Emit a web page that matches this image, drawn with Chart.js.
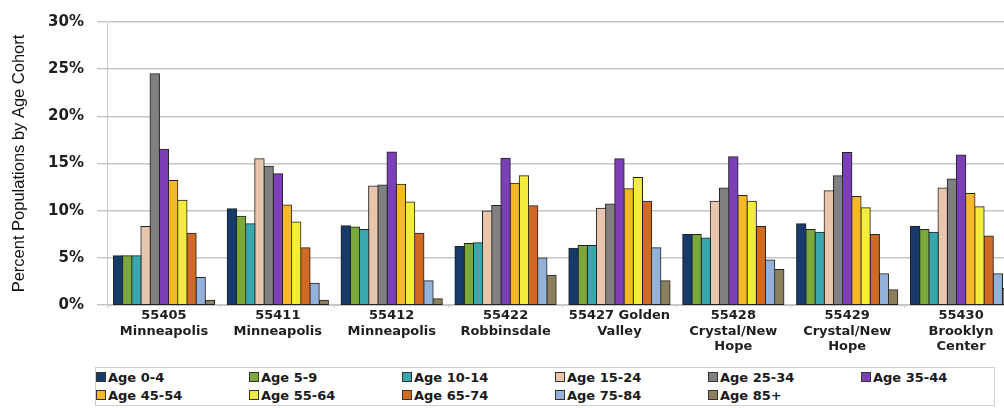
<!DOCTYPE html>
<html>
<head>
<meta charset="utf-8">
<script src="https://cdn.jsdelivr.net/npm/chart.js@4.4.1/dist/chart.umd.min.js"></script>
<style>
  html, body { margin: 0; padding: 0; background: #fff; overflow: hidden; }
  #wrap { position: relative; width: 1020px; height: 408px; }
  #legend { position: absolute; left: 95px; top: 367px; width: 900px; height: 39px;
            border: 1px solid #cfcfcf; box-sizing: border-box; background: #fff; }
  .item { position: absolute; font: bold 13px "DejaVu Sans", sans-serif; color: #1a1a1a;
          white-space: nowrap; line-height: 16px; }
  .sw { display: inline-block; width: 8px; height: 8px; border: 1px solid #333;
        vertical-align: 0px; margin-right: 2px; }
</style>
</head>
<body>
<div id="wrap">
  <canvas id="c"></canvas>
  <div id="legend"></div>
</div>
<script>
const categories = [
  ["55405", "Minneapolis"],
  ["55411", "Minneapolis"],
  ["55412", "Minneapolis"],
  ["55422", "Robbinsdale"],
  ["55427 Golden", "Valley"],
  ["55428", "Crystal/New", "Hope"],
  ["55429", "Crystal/New", "Hope"],
  ["55430", "Brooklyn", "Center"]
];
const seriesNames = ["Age 0-4", "Age 5-9", "Age 10-14", "Age 15-24", "Age 25-34", "Age 35-44",
                     "Age 45-54", "Age 55-64", "Age 65-74", "Age 75-84", "Age 85+"];
const age0_4   = [5.2, 10.2, 8.4, 6.2, 6.0, 7.45, 8.6, 8.35];
const age5_9   = [5.2, 9.4, 8.25, 6.5, 6.3, 7.45, 8.0, 8.0];
const age10_14 = [5.2, 8.6, 8.0, 6.6, 6.3, 7.1, 7.7, 7.7];
const age15_24 = [8.3, 15.5, 12.6, 9.95, 10.25, 11.0, 12.1, 12.4];
const age25_34 = [24.5, 14.7, 12.7, 10.55, 10.7, 12.4, 13.7, 13.35];
const age35_44 = [16.5, 13.9, 16.2, 15.55, 15.5, 15.7, 16.15, 15.9];
const age45_54 = [13.2, 10.6, 12.8, 12.9, 12.3, 11.6, 11.5, 11.8];
const age55_64 = [11.1, 8.8, 10.9, 13.7, 13.5, 11.0, 10.3, 10.4];
const age65_74 = [7.6, 6.05, 7.6, 10.5, 11.0, 8.3, 7.45, 7.3];
const age75_84 = [2.9, 2.3, 2.55, 4.97, 6.05, 4.75, 3.3, 3.3];
const age85p   = [0.5, 0.5, 0.66, 3.15, 2.55, 3.74, 1.6, 1.75];
const yTicks = [0, 5, 10, 15, 20, 25, 30];

const seriesValues = [age0_4, age5_9, age10_14, age15_24, age25_34, age35_44,
                      age45_54, age55_64, age65_74, age75_84, age85p];
const colors = ["#173a6b", "#7aa83a", "#39a8ae", "#e8c6ad", "#808080", "#7b3fb8",
                "#f5b829", "#f3ec3b", "#d06a22", "#94b1d9", "#8c7f5c"];

const datasets = seriesNames.map((n, i) => ({
  label: n,
  data: seriesValues[i],
  backgroundColor: colors[i],
  borderColor: "#222222",
  borderWidth: 1,
  borderSkipped: false,
  inflateAmount: 0.6,
  barPercentage: 1.0,
  categoryPercentage: 0.887
}));

new Chart(document.getElementById("c"), {
  type: "bar",
  data: { labels: categories, datasets },
  options: {
    responsive: true,
    maintainAspectRatio: false,
    animation: false,
    layout: { padding: { top: 19, right: 2, left: 0, bottom: 0 } },
    plugins: { legend: { display: false }, tooltip: { enabled: false } },
    scales: {
      x: {
        grid: { display: true, drawOnChartArea: false, tickLength: 3, color: "#d4d4d4", offset: true },
        border: { color: "#c8c8c8" },
        ticks: {
          autoSkip: false, maxRotation: 0, minRotation: 0, padding: 0,
          color: "#1e1e1e",
          font: { family: "DejaVu Sans", weight: "bold", size: 13, lineHeight: 1.2 }
        },
        afterFit(s) { s.height = 103; }
      },
      y: {
        min: 0, max: 30,
        afterBuildTicks(s) { s.ticks = yTicks.map(v => ({ value: v })); },
        grid: { color: "#c6c6c6", lineWidth: 1.4, tickLength: 10 },
        border: { color: "#c8c8c8" },
        ticks: {
          padding: 13, color: "#1e1e1e",
          font: { family: "DejaVu Sans", weight: "bold", size: 15 },
          callback: v => v + "%"
        },
        title: {
          display: true, text: "Percent Populations by Age Cohort",
          color: "#111", padding: { top: 10, bottom: 0 },
          font: { family: "Liberation Sans", size: 16.5 }
        },
        afterFit(s) { s.width = 107; }
      }
    }
  }
});

// legend built from the series arrays
const leg = document.getElementById("legend");
seriesNames.forEach((n, i) => {
  const col = i % 6, row = Math.floor(i / 6);
  const d = document.createElement("div");
  d.className = "item";
  d.style.left = (0 + col * 153) + "px";
  d.style.top = (2 + row * 18) + "px";
  d.innerHTML = '<span class="sw" style="background:' + colors[i] + '"></span>' + n;
  leg.appendChild(d);
});
</script>
</body>
</html>
